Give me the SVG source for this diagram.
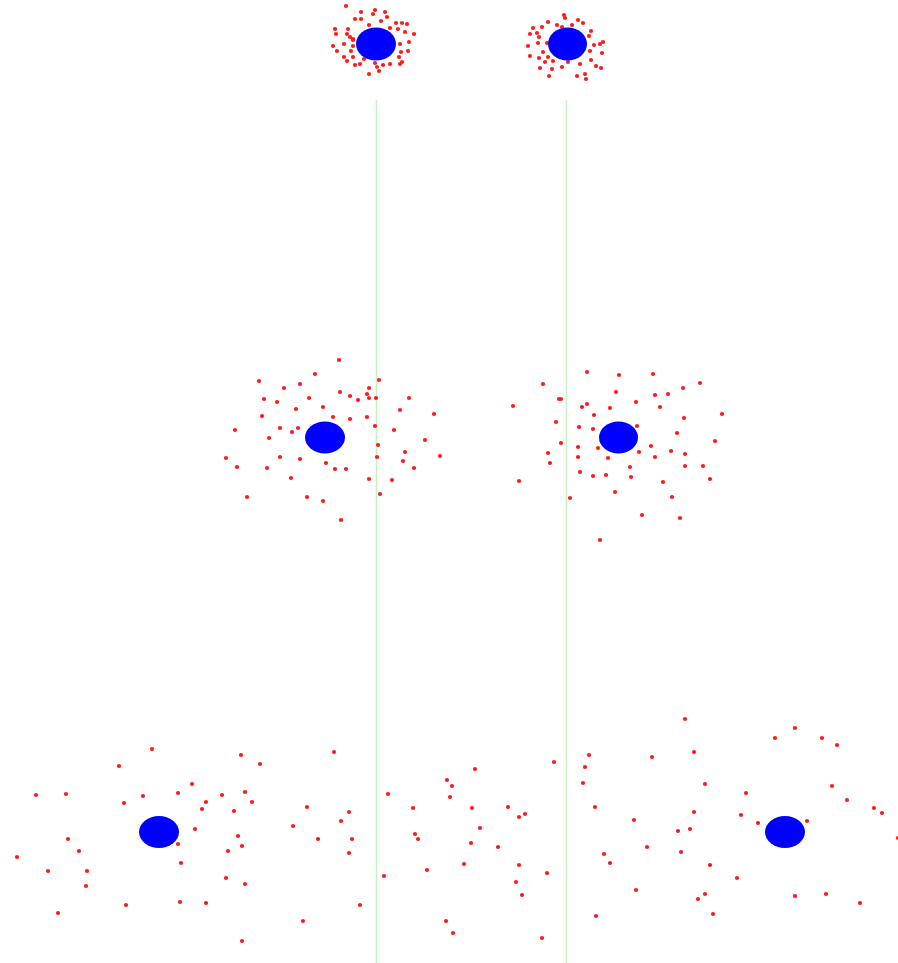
<svg xmlns="http://www.w3.org/2000/svg" xmlns:xlink="http://www.w3.org/1999/xlink" width="898" height="963" viewBox="0 0 898 963">
<style>
.ln{stroke:#c6f2c0;stroke-width:1.5;fill:none}
.b{fill:#0000ff}
</style>
<defs><circle id="d" r="2.1" fill="#ff1a1a"/></defs>
<rect width="898" height="963" fill="#fff"/>
<g id="lines">
<line class="ln" x1="376.5" y1="100" x2="376.5" y2="963"/>
<line class="ln" x1="566.5" y1="100" x2="566.5" y2="963"/>
</g>
<g id="dots-top-left">
<use href="#d" x="346" y="6"/><use href="#d" x="361" y="12"/><use href="#d" x="375" y="10"/><use href="#d" x="385" y="12"/><use href="#d" x="373" y="14"/><use href="#d" x="355" y="19"/><use href="#d" x="361" y="19"/><use href="#d" x="387" y="17"/><use href="#d" x="381" y="21"/><use href="#d" x="369" y="25"/><use href="#d" x="396" y="23"/><use href="#d" x="402" y="23"/><use href="#d" x="407" y="24"/><use href="#d" x="335" y="29"/><use href="#d" x="348" y="29"/><use href="#d" x="390" y="28"/><use href="#d" x="398" y="29"/><use href="#d" x="405" y="32"/><use href="#d" x="336" y="34"/><use href="#d" x="347" y="34"/><use href="#d" x="350" y="37"/><use href="#d" x="414" y="34"/><use href="#d" x="353" y="40"/><use href="#d" x="344" y="44"/><use href="#d" x="409" y="42"/><use href="#d" x="333" y="46"/><use href="#d" x="353" y="46"/><use href="#d" x="400" y="44"/><use href="#d" x="337" y="51"/><use href="#d" x="351" y="51"/><use href="#d" x="408" y="51"/><use href="#d" x="401" y="52"/><use href="#d" x="344" y="57"/><use href="#d" x="353" y="57"/><use href="#d" x="364" y="59"/><use href="#d" x="399" y="57"/><use href="#d" x="402" y="62"/><use href="#d" x="347" y="61"/><use href="#d" x="355" y="65"/><use href="#d" x="360" y="64"/><use href="#d" x="375" y="63"/><use href="#d" x="383" y="65"/><use href="#d" x="390" y="64"/><use href="#d" x="400" y="64"/><use href="#d" x="377" y="67"/><use href="#d" x="369" y="74"/><use href="#d" x="379" y="71"/><use href="#d" x="353" y="39"/>
</g>
<g id="dots-top-right">
<use href="#d" x="564" y="15"/><use href="#d" x="565" y="18"/><use href="#d" x="548" y="22"/><use href="#d" x="557" y="25"/><use href="#d" x="572" y="25"/><use href="#d" x="578" y="20"/><use href="#d" x="583" y="23"/><use href="#d" x="533" y="28"/><use href="#d" x="542" y="27"/><use href="#d" x="562" y="27"/><use href="#d" x="591" y="31"/><use href="#d" x="530" y="34"/><use href="#d" x="537" y="33"/><use href="#d" x="539" y="37"/><use href="#d" x="589" y="36"/><use href="#d" x="528" y="46"/><use href="#d" x="538" y="43"/><use href="#d" x="547" y="43"/><use href="#d" x="594" y="45"/><use href="#d" x="603" y="42"/><use href="#d" x="600" y="44"/><use href="#d" x="543" y="52"/><use href="#d" x="590" y="51"/><use href="#d" x="602" y="53"/><use href="#d" x="530" y="56"/><use href="#d" x="539" y="58"/><use href="#d" x="548" y="57"/><use href="#d" x="545" y="62"/><use href="#d" x="553" y="61"/><use href="#d" x="568" y="62"/><use href="#d" x="580" y="64"/><use href="#d" x="591" y="60"/><use href="#d" x="562" y="67"/><use href="#d" x="596" y="66"/><use href="#d" x="540" y="68"/><use href="#d" x="552" y="69"/><use href="#d" x="601" y="68"/><use href="#d" x="585" y="74"/><use href="#d" x="549" y="76"/><use href="#d" x="577" y="76"/><use href="#d" x="586" y="79"/>
</g>
<g id="dots-mid-left">
<use href="#d" x="339" y="360"/><use href="#d" x="315" y="374"/><use href="#d" x="259" y="381"/><use href="#d" x="379" y="380"/><use href="#d" x="284" y="388"/><use href="#d" x="300" y="384"/><use href="#d" x="369" y="388"/><use href="#d" x="340" y="392"/><use href="#d" x="367" y="394"/><use href="#d" x="350" y="396"/><use href="#d" x="358" y="400"/><use href="#d" x="369" y="398"/><use href="#d" x="376" y="398"/><use href="#d" x="409" y="398"/><use href="#d" x="264" y="399"/><use href="#d" x="277" y="402"/><use href="#d" x="309" y="398"/><use href="#d" x="323" y="407"/><use href="#d" x="296" y="409"/><use href="#d" x="400" y="410"/><use href="#d" x="434" y="414"/><use href="#d" x="262" y="416"/><use href="#d" x="333" y="417"/><use href="#d" x="350" y="419"/><use href="#d" x="367" y="417"/><use href="#d" x="375" y="426"/><use href="#d" x="280" y="428"/><use href="#d" x="298" y="428"/><use href="#d" x="292" y="432"/><use href="#d" x="235" y="430"/><use href="#d" x="394" y="430"/><use href="#d" x="269" y="438"/><use href="#d" x="425" y="440"/><use href="#d" x="378" y="445"/><use href="#d" x="405" y="452"/><use href="#d" x="440" y="456"/><use href="#d" x="226" y="458"/><use href="#d" x="280" y="457"/><use href="#d" x="300" y="459"/><use href="#d" x="377" y="457"/><use href="#d" x="403" y="461"/><use href="#d" x="237" y="467"/><use href="#d" x="267" y="468"/><use href="#d" x="326" y="463"/><use href="#d" x="335" y="469"/><use href="#d" x="346" y="469"/><use href="#d" x="414" y="468"/><use href="#d" x="291" y="478"/><use href="#d" x="369" y="479"/><use href="#d" x="392" y="480"/><use href="#d" x="247" y="497"/><use href="#d" x="307" y="497"/><use href="#d" x="323" y="501"/><use href="#d" x="380" y="494"/><use href="#d" x="341" y="520"/>
</g>
<g id="dots-mid-right">
<use href="#d" x="587" y="372"/><use href="#d" x="619" y="375"/><use href="#d" x="653" y="374"/><use href="#d" x="543" y="384"/><use href="#d" x="700" y="383"/><use href="#d" x="683" y="388"/><use href="#d" x="616" y="392"/><use href="#d" x="655" y="395"/><use href="#d" x="668" y="394"/><use href="#d" x="559" y="399"/><use href="#d" x="561" y="399"/><use href="#d" x="513" y="406"/><use href="#d" x="587" y="404"/><use href="#d" x="582" y="407"/><use href="#d" x="636" y="402"/><use href="#d" x="610" y="408"/><use href="#d" x="660" y="407"/><use href="#d" x="722" y="414"/><use href="#d" x="594" y="415"/><use href="#d" x="684" y="418"/><use href="#d" x="556" y="422"/><use href="#d" x="579" y="427"/><use href="#d" x="593" y="429"/><use href="#d" x="637" y="426"/><use href="#d" x="677" y="433"/><use href="#d" x="561" y="443"/><use href="#d" x="715" y="441"/><use href="#d" x="651" y="446"/><use href="#d" x="578" y="447"/><use href="#d" x="598" y="448"/><use href="#d" x="639" y="452"/><use href="#d" x="671" y="451"/><use href="#d" x="685" y="454"/><use href="#d" x="548" y="453"/><use href="#d" x="578" y="457"/><use href="#d" x="608" y="458"/><use href="#d" x="655" y="457"/><use href="#d" x="550" y="463"/><use href="#d" x="630" y="467"/><use href="#d" x="685" y="466"/><use href="#d" x="703" y="466"/><use href="#d" x="580" y="472"/><use href="#d" x="593" y="476"/><use href="#d" x="606" y="475"/><use href="#d" x="631" y="477"/><use href="#d" x="710" y="479"/><use href="#d" x="519" y="481"/><use href="#d" x="663" y="482"/><use href="#d" x="615" y="492"/><use href="#d" x="570" y="498"/><use href="#d" x="672" y="497"/><use href="#d" x="642" y="515"/><use href="#d" x="680" y="518"/><use href="#d" x="600" y="540"/>
</g>
<g id="dots-bottom">
<use href="#d" x="152" y="749"/><use href="#d" x="119" y="766"/><use href="#d" x="241" y="755"/><use href="#d" x="260" y="764"/><use href="#d" x="192" y="784"/><use href="#d" x="36" y="795"/><use href="#d" x="66" y="794"/><use href="#d" x="143" y="796"/><use href="#d" x="178" y="793"/><use href="#d" x="222" y="795"/><use href="#d" x="245" y="792"/><use href="#d" x="124" y="803"/><use href="#d" x="206" y="802"/><use href="#d" x="252" y="802"/><use href="#d" x="202" y="809"/><use href="#d" x="234" y="811"/><use href="#d" x="195" y="829"/><use href="#d" x="293" y="826"/><use href="#d" x="238" y="836"/><use href="#d" x="68" y="839"/><use href="#d" x="178" y="844"/><use href="#d" x="242" y="846"/><use href="#d" x="228" y="851"/><use href="#d" x="79" y="851"/><use href="#d" x="17" y="857"/><use href="#d" x="181" y="863"/><use href="#d" x="48" y="871"/><use href="#d" x="87" y="871"/><use href="#d" x="226" y="878"/><use href="#d" x="245" y="884"/><use href="#d" x="86" y="886"/><use href="#d" x="180" y="902"/><use href="#d" x="206" y="903"/><use href="#d" x="126" y="905"/><use href="#d" x="58" y="913"/><use href="#d" x="242" y="941"/>
<use href="#d" x="334" y="752"/><use href="#d" x="307" y="807"/><use href="#d" x="349" y="812"/><use href="#d" x="341" y="821"/><use href="#d" x="318" y="839"/><use href="#d" x="352" y="839"/><use href="#d" x="349" y="853"/><use href="#d" x="360" y="905"/><use href="#d" x="303" y="921"/><use href="#d" x="388" y="794"/><use href="#d" x="475" y="769"/><use href="#d" x="554" y="762"/><use href="#d" x="447" y="780"/><use href="#d" x="452" y="786"/><use href="#d" x="450" y="797"/><use href="#d" x="413" y="808"/><use href="#d" x="472" y="808"/><use href="#d" x="508" y="807"/><use href="#d" x="519" y="817"/><use href="#d" x="525" y="814"/><use href="#d" x="480" y="828"/><use href="#d" x="415" y="834"/><use href="#d" x="418" y="839"/><use href="#d" x="471" y="843"/><use href="#d" x="498" y="847"/><use href="#d" x="464" y="864"/><use href="#d" x="519" y="865"/><use href="#d" x="427" y="870"/><use href="#d" x="547" y="873"/><use href="#d" x="384" y="876"/><use href="#d" x="516" y="882"/><use href="#d" x="522" y="895"/><use href="#d" x="446" y="921"/><use href="#d" x="453" y="933"/><use href="#d" x="542" y="938"/>
<use href="#d" x="685" y="719"/><use href="#d" x="795" y="728"/><use href="#d" x="775" y="738"/><use href="#d" x="822" y="738"/><use href="#d" x="837" y="745"/><use href="#d" x="589" y="755"/><use href="#d" x="652" y="757"/><use href="#d" x="694" y="752"/><use href="#d" x="585" y="767"/><use href="#d" x="583" y="783"/><use href="#d" x="705" y="784"/><use href="#d" x="746" y="793"/><use href="#d" x="832" y="786"/><use href="#d" x="847" y="800"/><use href="#d" x="595" y="807"/><use href="#d" x="874" y="808"/><use href="#d" x="882" y="813"/><use href="#d" x="694" y="812"/><use href="#d" x="741" y="815"/><use href="#d" x="634" y="820"/><use href="#d" x="758" y="823"/><use href="#d" x="807" y="821"/><use href="#d" x="690" y="829"/><use href="#d" x="678" y="831"/><use href="#d" x="898" y="838"/><use href="#d" x="647" y="847"/><use href="#d" x="681" y="852"/><use href="#d" x="604" y="854"/><use href="#d" x="610" y="863"/><use href="#d" x="710" y="865"/><use href="#d" x="737" y="878"/><use href="#d" x="636" y="890"/><use href="#d" x="705" y="894"/><use href="#d" x="698" y="899"/><use href="#d" x="795" y="896"/><use href="#d" x="826" y="894"/><use href="#d" x="860" y="903"/><use href="#d" x="596" y="916"/><use href="#d" x="713" y="914"/>
</g>
<g id="n1"><ellipse class="b" cx="376" cy="44" rx="20" ry="16.5"/></g>
<g id="n2"><ellipse class="b" cx="567.5" cy="44" rx="19.5" ry="16.5"/></g>
<g id="n3"><ellipse class="b" cx="325" cy="437.5" rx="20" ry="16"/></g>
<g id="n4"><ellipse class="b" cx="618.5" cy="437.5" rx="19.5" ry="16"/></g>
<g id="n5"><ellipse class="b" cx="159" cy="832" rx="20" ry="16"/></g>
<g id="n6"><ellipse class="b" cx="785" cy="832" rx="20" ry="16"/></g>
</svg>
